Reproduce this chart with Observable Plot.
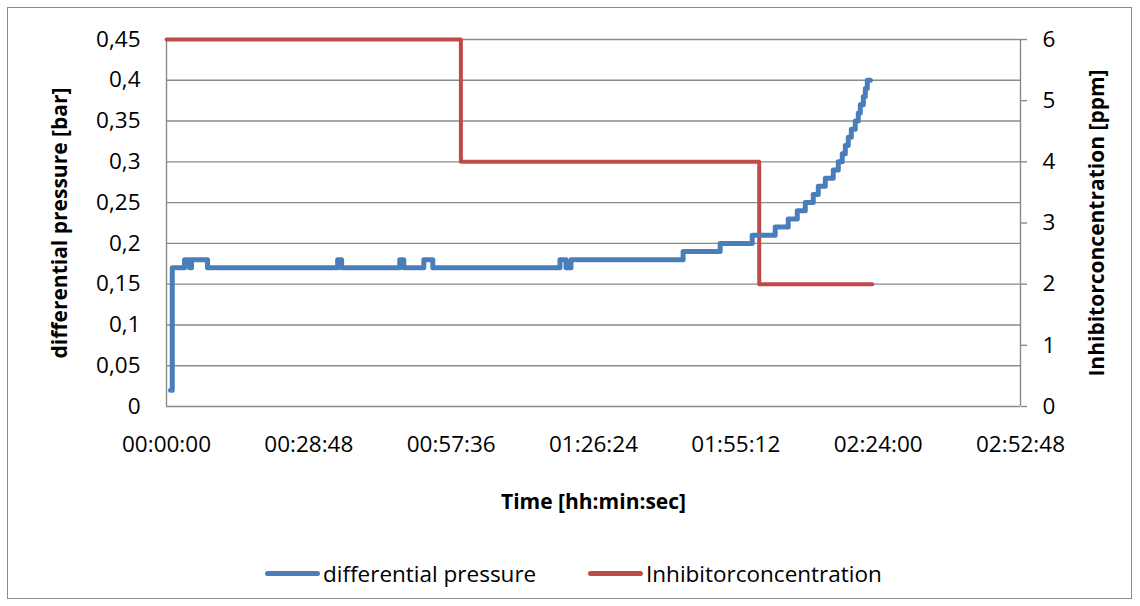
<!DOCTYPE html>
<html>
<head>
<meta charset="utf-8">
<script src="https://cdn.jsdelivr.net/npm/d3@7"></script>
<script src="https://cdn.jsdelivr.net/npm/@observablehq/plot@0.6"></script>
<style>
  html, body { margin: 0; padding: 0; background: #fff; }
  body { width: 1140px; height: 606px; position: relative; overflow: hidden; font-family: "Open Sans", sans-serif; }
  #frame { position: absolute; left: 7px; top: 7px; width: 1125px; height: 592px; border: 1.5px solid #8a8a8a; box-sizing: border-box; }
  #chart { position: absolute; left: 0; top: 0; }
  #legend { position: absolute; top: 558px; left: 0; width: 1140px; height: 30px; font-size: 22.5px; color: #000; }
  .item { position: absolute; top: 0; display: flex; align-items: center; height: 30px; }
  .swatch { width: 55px; height: 5px; border-radius: 3px; margin-right: 3px; }
</style>
</head>
<body>
<div id="frame"></div>
<div id="chart"></div>
<div id="legend">
  <div class="item" style="left:265px"><div class="swatch" style="background:#4a7ebb"></div><span>differential pressure</span></div>
  <div class="item" style="left:588px"><div class="swatch" style="background:#be4b48"></div><span>Inhibitorconcentration</span></div>
</div>
<script>
// Time in seconds since start
const pressureTime = [49, 70, 219, 280, 304, 498, 2078, 2126, 2832, 2881, 3124, 3233, 4777, 4850, 4911,
  6272, 6722, 7111, 7390, 7548, 7658, 7755, 7852, 7913, 7998, 8095, 8156, 8204, 8241, 8277, 8314,
  8362, 8399, 8423, 8460, 8484, 8508, 8545];
const pressureBar = [0.02, 0.17, 0.18, 0.17, 0.18, 0.17, 0.18, 0.17, 0.18, 0.17, 0.18, 0.17, 0.18, 0.17, 0.18,
  0.19, 0.20, 0.21, 0.22, 0.23, 0.24, 0.25, 0.26, 0.27, 0.28, 0.29, 0.30, 0.31, 0.32, 0.33, 0.34,
  0.35, 0.36, 0.37, 0.38, 0.39, 0.40, 0.40];
const inhibitorTime = [0, 3574, 7196, 8569];
const inhibitorPpm = [6, 4, 2, 2];

const leftTicks = [0, 0.05, 0.1, 0.15, 0.2, 0.25, 0.3, 0.35, 0.4, 0.45];
const rightTicks = [0, 1, 2, 3, 4, 5, 6];
const timeTicks = [0, 1728, 3456, 5184, 6912, 8640, 10368];

const ppmToBar = 0.45 / 6;

const pressure = pressureTime.map((t, i) => ({t, v: pressureBar[i]}));
const inhibitor = inhibitorTime.map((t, i) => ({t, v: inhibitorPpm[i]}));

const fmtTime = s => {
  const h = Math.floor(s / 3600), m = Math.floor((s % 3600) / 60), sec = Math.round(s % 60);
  return [h, m, sec].map(n => String(n).padStart(2, "0")).join(":");
};
const fmtComma = d => String(+d.toFixed(2)).replace(".", ",");

const grid = "#8a8a8a";
const FS = 22.5;
const TS = 21;

const chart = Plot.plot({
  width: 1140,
  height: 540,
  marginLeft: 166,
  marginRight: 120,
  marginTop: 39,
  marginBottom: 134,
  style: {fontFamily: "Open Sans, sans-serif", fontSize: FS + "px", color: "#000", background: "transparent", overflow: "visible"},
  x: {domain: [0, 10368], axis: null},
  y: {domain: [0, 0.45], axis: null},
  marks: [
    Plot.ruleY(leftTicks, {stroke: grid, strokeWidth: 1.4}),
    Plot.ruleX([0, 10368], {stroke: grid, strokeWidth: 1.4}),
    Plot.axisY({anchor: "left", ticks: leftTicks, tickSize: 0, tickPadding: 26, tickFormat: fmtComma, fontSize: FS, label: null}),
    Plot.axisY({anchor: "right", ticks: rightTicks.map(v => v * ppmToBar), tickSize: 6, tickPadding: 16,
      tickFormat: d => String(Math.round(d / ppmToBar)), fontSize: FS, label: null, stroke: grid, strokeWidth: 1.4}),
    Plot.axisX({ticks: timeTicks, tickSize: 0, tickPadding: 30, tickFormat: fmtTime, fontSize: FS, label: null}),
    Plot.line(inhibitor, {x: "t", y: d => d.v * ppmToBar, curve: "step-after", stroke: "#be4b48", strokeWidth: 4, strokeLinecap: "round", strokeLinejoin: "round"}),
    Plot.line(pressure, {x: "t", y: "v", curve: "step-after", stroke: "#4a7ebb", strokeWidth: 5, strokeLinecap: "round", strokeLinejoin: "round"}),
    Plot.text(["differential pressure [bar]"], {text: d => d, frameAnchor: "left", dx: -106, rotate: -90, textAnchor: "middle", lineAnchor: "middle", fontWeight: "bold", fontSize: TS, fill: "#000"}),
    Plot.text(["Inhibitorconcentration [ppm]"], {text: d => d, frameAnchor: "right", dx: 77, rotate: -90, textAnchor: "middle", lineAnchor: "middle", fontWeight: "bold", fontSize: TS, fill: "#000"}),
    Plot.text(["Time [hh:min:sec]"], {text: d => d, frameAnchor: "bottom", dy: 96, textAnchor: "middle", lineAnchor: "middle", fontWeight: "bold", fontSize: TS, fill: "#000"})
  ]
});
document.getElementById("chart").appendChild(chart);
</script>
</body>
</html>
